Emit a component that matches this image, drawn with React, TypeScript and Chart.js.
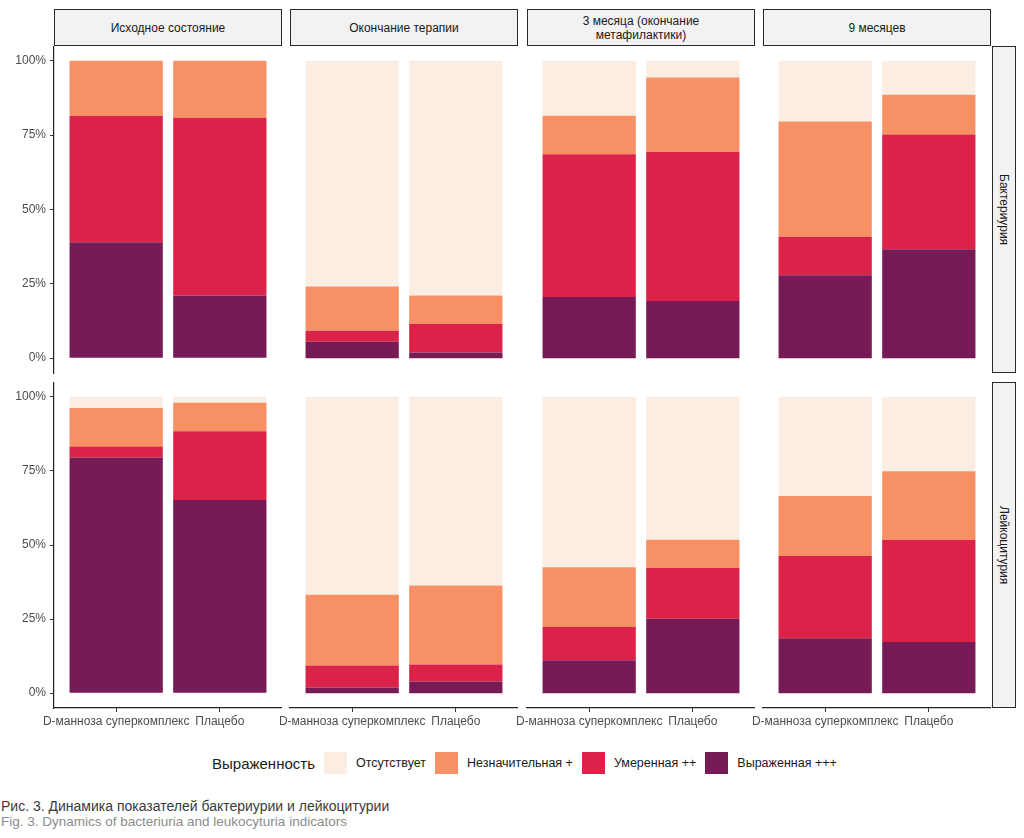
import React, { useEffect, useRef } from "react";
import { Chart, registerables } from "chart.js";

Chart.register(...registerables);

// ---------- data ----------
const periods = ["Исходное состояние", "Окончание терапии", "3 месяца (окончание\nметафилактики)", "9 месяцев"];
const groups = ["D-манноза суперкомплекс", "Плацебо"];
const indicators = ["Бактериурия", "Лейкоцитурия"];
const levels = ["Отсутствует", "Незначительная +", "Умеренная ++", "Выраженная +++"];
const levelColors = ["#FCEDE3", "#F79064", "#DB2249", "#761B56"];
const legendTitle = "Выраженность";
const yTickValues = [0, 25, 50, 75, 100];
const captionRu = "Рис. 3. Динамика показателей бактериурии и лейкоцитурии";
const captionEn = "Fig. 3. Dynamics of bacteriuria and leukocyturia indicators";

// per period: [D-манноза, Плацебо], percent
const bactSevere = [[39, 21.1], [5.5, 1.9], [20.6, 19.2], [27.9, 36.6]];
const bactModerate = [[42.5, 59.8], [3.7, 9.6], [48, 50.2], [12.9, 38.6]];
const bactMinor = [[18.5, 19.1], [14.9, 9.6], [12.9, 25], [38.8, 13.4]];
const bactAbsent = [[0, 0], [75.9, 78.9], [18.5, 5.6], [20.4, 11.4]];

const leukSevere = [[79.5, 65.2], [1.9, 3.9], [11.1, 25.1], [18.5, 17.3]];
const leukModerate = [[3.7, 23.2], [7.4, 5.8], [11.2, 17.1], [27.8, 34.5]];
const leukMinor = [[13, 9.6], [23.9, 26.6], [20.2, 9.6], [20.2, 23.1]];
const leukAbsent = [[3.8, 2], [66.8, 63.7], [57.5, 48.2], [33.5, 25.1]];

// stacking order bottom -> top: severe, moderate, minor, absent
const rowSeries = [
  [bactSevere, bactModerate, bactMinor, bactAbsent],
  [leukSevere, leukModerate, leukMinor, leukAbsent],
];
const seriesLevelIndex = [3, 2, 1, 0];

// ---------- layout ----------
const FONT = "'Liberation Sans', Arial, Helvetica, sans-serif";
const COL_LEFT = [54, 290, 527, 763];
const PLOT_W = 228;
const ROW_TOP = [46, 382];
const PLOT_H = [327, 326];
const PAD_L = 54;
const PAD_B = 30;

function Panel({ row, col }: { row: number; col: number }) {
  const ref = useRef<HTMLCanvasElement | null>(null);
  const left = COL_LEFT[col] - PAD_L;
  const top = ROW_TOP[row];
  const w = PLOT_W + PAD_L;
  const h = PLOT_H[row] + PAD_B;
  const showY = col === 0;
  const showX = row === 1;

  useEffect(() => {
    if (!ref.current) return;
    const series = rowSeries[row];
    const datasets = series.map((arr, k) => ({
      label: levels[seriesLevelIndex[k]],
      data: groups.map((_, gi) => ({ x: gi + 1, y: arr[col][gi] })),
      backgroundColor: levelColors[seriesLevelIndex[k]],
      borderWidth: 0,
      inflateAmount: 0,
      categoryPercentage: 1,
      barPercentage: 0.9,
    }));
    const chart = new Chart(ref.current, {
      type: "bar",
      data: { datasets },
      options: {
        animation: false,
        responsive: false,
        maintainAspectRatio: false,
        layout: { padding: 0 },
        plugins: { legend: { display: false }, tooltip: { enabled: false } },
        scales: {
          x: {
            type: "linear",
            stacked: true,
            offset: false,
            min: 0.4,
            max: 2.6,
            bounds: "data",
            afterBuildTicks: (s: any) => {
              s.ticks = groups.map((_, i) => ({ value: i + 1 }));
            },
            afterFit: (s: any) => {
              s.height = PAD_B;
              s.paddingLeft = 0;
              s.paddingRight = 0;
            },
            ticks: {
              display: showX,
              autoSkip: false,
              maxRotation: 0,
              padding: 2,
              color: "#4d4d4d",
              font: { family: FONT, size: 12 },
              callback: (v: any) => groups[Math.round(Number(v)) - 1] ?? "",
            },
            grid: {
              display: showX,
              offset: false,
              drawOnChartArea: false,
              drawTicks: true,
              tickLength: 4,
              tickColor: "#333",
              color: "#333",
            },
            border: { display: showX, color: "#222", width: 1.2 },
          },
          y: {
            type: "linear",
            stacked: true,
            min: -5,
            max: 105,
            bounds: "data",
            afterBuildTicks: (s: any) => {
              s.ticks = yTickValues.map((v) => ({ value: v }));
            },
            afterFit: (s: any) => {
              s.width = PAD_L;
              s.paddingTop = 0;
              s.paddingBottom = 0;
            },
            ticks: {
              display: showY,
              padding: 4,
              color: "#4d4d4d",
              font: { family: FONT, size: 12 },
              callback: (v: any) => v + "%",
            },
            grid: {
              display: showY,
              drawOnChartArea: false,
              drawTicks: true,
              tickLength: 4,
              tickColor: "#333",
              color: "#333",
            },
            border: { display: showY, color: "#222", width: 1.2 },
          },
        },
      } as any,
    });
    return () => chart.destroy();
  }, [row, col]);

  return (
    <canvas
      ref={ref}
      width={w}
      height={h}
      style={{ position: "absolute", left, top, width: w, height: h }}
    />
  );
}

export default function App() {
  const stripStyle: React.CSSProperties = {
    position: "absolute",
    boxSizing: "border-box",
    border: "1.5px solid #2a2a2a",
    background: "#F2F2F2",
    color: "#1a1a1a",
    fontFamily: FONT,
    fontSize: 12,
    display: "flex",
    alignItems: "center",
    justifyContent: "center",
    textAlign: "center",
  };
  return (
    <div
      style={{
        position: "absolute",
        left: 0,
        top: 0,
        width: 1024,
        height: 838,
        background: "#fff",
        fontFamily: FONT,
        overflow: "hidden",
      }}
    >
      {periods.map((p, c) => (
        <div
          key={"s" + c}
          style={{ ...stripStyle, left: COL_LEFT[c], top: 9, width: PLOT_W, height: 37, whiteSpace: "pre-line", lineHeight: "14px" }}
        >
          {p}
        </div>
      ))}
      {indicators.map((t, r) => (
        <div
          key={"r" + r}
          style={{ ...stripStyle, left: 992, top: ROW_TOP[r], width: 24, height: PLOT_H[r] }}
        >
          <span style={{ writingMode: "vertical-rl" }}>{t}</span>
        </div>
      ))}
      {[0, 1].map((r) => [0, 1, 2, 3].map((c) => <Panel key={r + "-" + c} row={r} col={c} />))}
      <div
        style={{
          position: "absolute",
          left: 212,
          top: 752,
          height: 22,
          display: "flex",
          alignItems: "center",
          gap: 9,
          color: "#1a1a1a",
          fontSize: 12.5,
        }}
      >
        <span style={{ fontSize: 15 }}>{legendTitle}</span>
        {levels.map((l, i) => (
          <React.Fragment key={l}>
            <span style={{ width: 23, height: 22, background: levelColors[i], display: "inline-block" }} />
            <span>{l}</span>
          </React.Fragment>
        ))}
      </div>
      <div style={{ position: "absolute", left: 1, top: 798, fontSize: 14, color: "#3a3a3a", lineHeight: "16px" }}>
        {captionRu}
      </div>
      <div style={{ position: "absolute", left: 1, top: 814, fontSize: 13.5, color: "#8c8c8c", lineHeight: "16px" }}>
        {captionEn}
      </div>
    </div>
  );
}
